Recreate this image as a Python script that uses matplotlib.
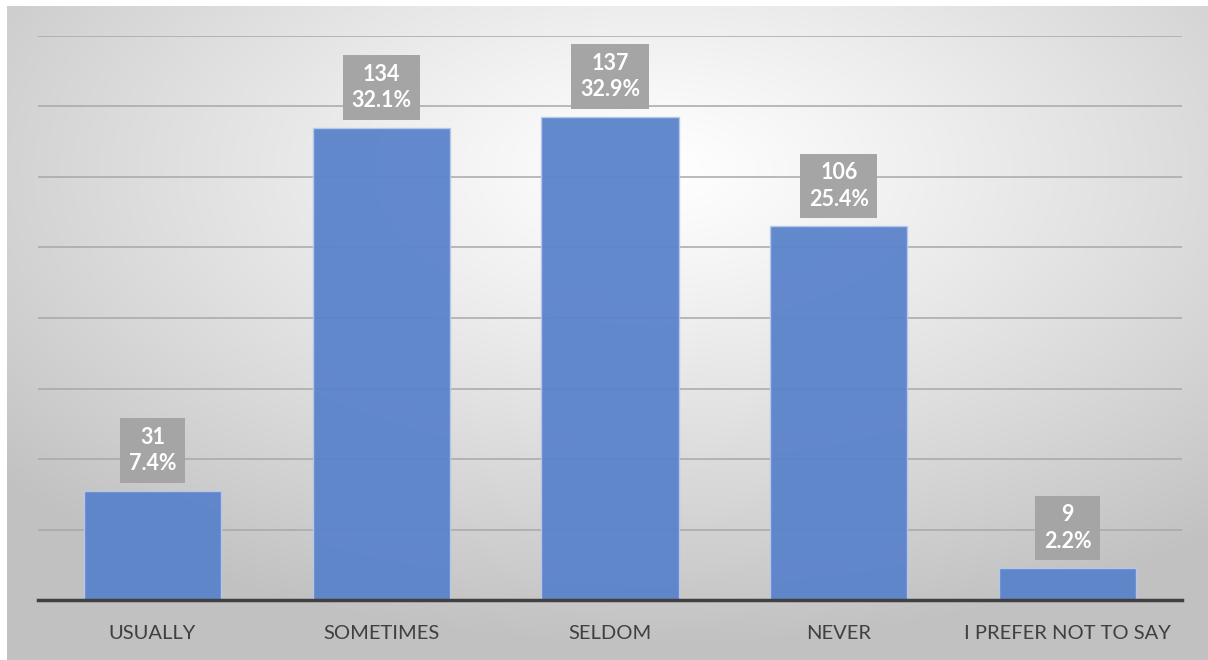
import numpy as np
import matplotlib.pyplot as plt

categories = ['USUALLY', 'SOMETIMES', 'SELDOM', 'NEVER', 'I PREFER NOT TO SAY']
counts = [31, 134, 137, 106, 9]
shares = [7.4, 32.1, 32.9, 25.4, 2.2]

plt.rcParams['font.family'] = ['Lato', 'DejaVu Sans']

fig = plt.figure(figsize=(12.08, 6.6), dpi=100, facecolor='white')

# radial grey-to-white backdrop inside a thin white margin
bg = fig.add_axes([7 / 1208, -0.02, 1.0, 1 - 6 / 660 + 0.02], zorder=-10)
yy, xx = np.mgrid[0:667, 0:1208]
d = np.sqrt(((xx - 650) / 1201.0) ** 2 + ((yy - 165) / 654.0) ** 2)
shade = 1.0 - 0.24 * np.clip(d / 0.72, 0, 1) ** 1.15
img = np.dstack([shade, shade, shade])
bg.imshow(img, extent=[0, 1, 0, 1], aspect='auto', origin='upper')
bg.set_axis_off()

ax = fig.add_axes([38 / 1208, 60 / 660, 1144 / 1208, 564 / 660])
ax.patch.set_alpha(0)
x = np.arange(len(categories))
ax.bar(x, counts, width=0.6, color='#5B83CB', alpha=0.95,
       edgecolor='#B7C9EA', linewidth=1, zorder=3)

ax.set_xlim(-0.5, len(categories) - 0.5)
ax.set_ylim(0, 160)
ax.set_yticks(np.arange(20, 161, 20))
ax.yaxis.grid(True, color='#A8A8A8', linewidth=1.1, zorder=0)
ax.tick_params(axis='y', length=0, labelleft=False)
ax.tick_params(axis='x', length=0, pad=18, labelsize=14.5, labelcolor='#404040')
ax.set_xticks(x)
ax.set_xticklabels(categories)
for s in ['top', 'right', 'left']:
    ax.spines[s].set_visible(False)
ax.spines['bottom'].set_color('#404040')
ax.spines['bottom'].set_linewidth(2.5)
ax.spines['bottom'].set_zorder(4)

for xi, c, p in zip(x, counts, shares):
    ax.annotate(f'{c}\n{p}%', xy=(xi, c), xytext=(0, 12), textcoords='offset points',
                ha='center', va='bottom', fontsize=15.5, fontweight='bold',
                color='white', linespacing=1.32, zorder=5,
                bbox=dict(boxstyle='square,pad=0.4', fc='#A5A5A5', ec='none'))

fig.savefig('out.png', dpi=100, facecolor='white')
